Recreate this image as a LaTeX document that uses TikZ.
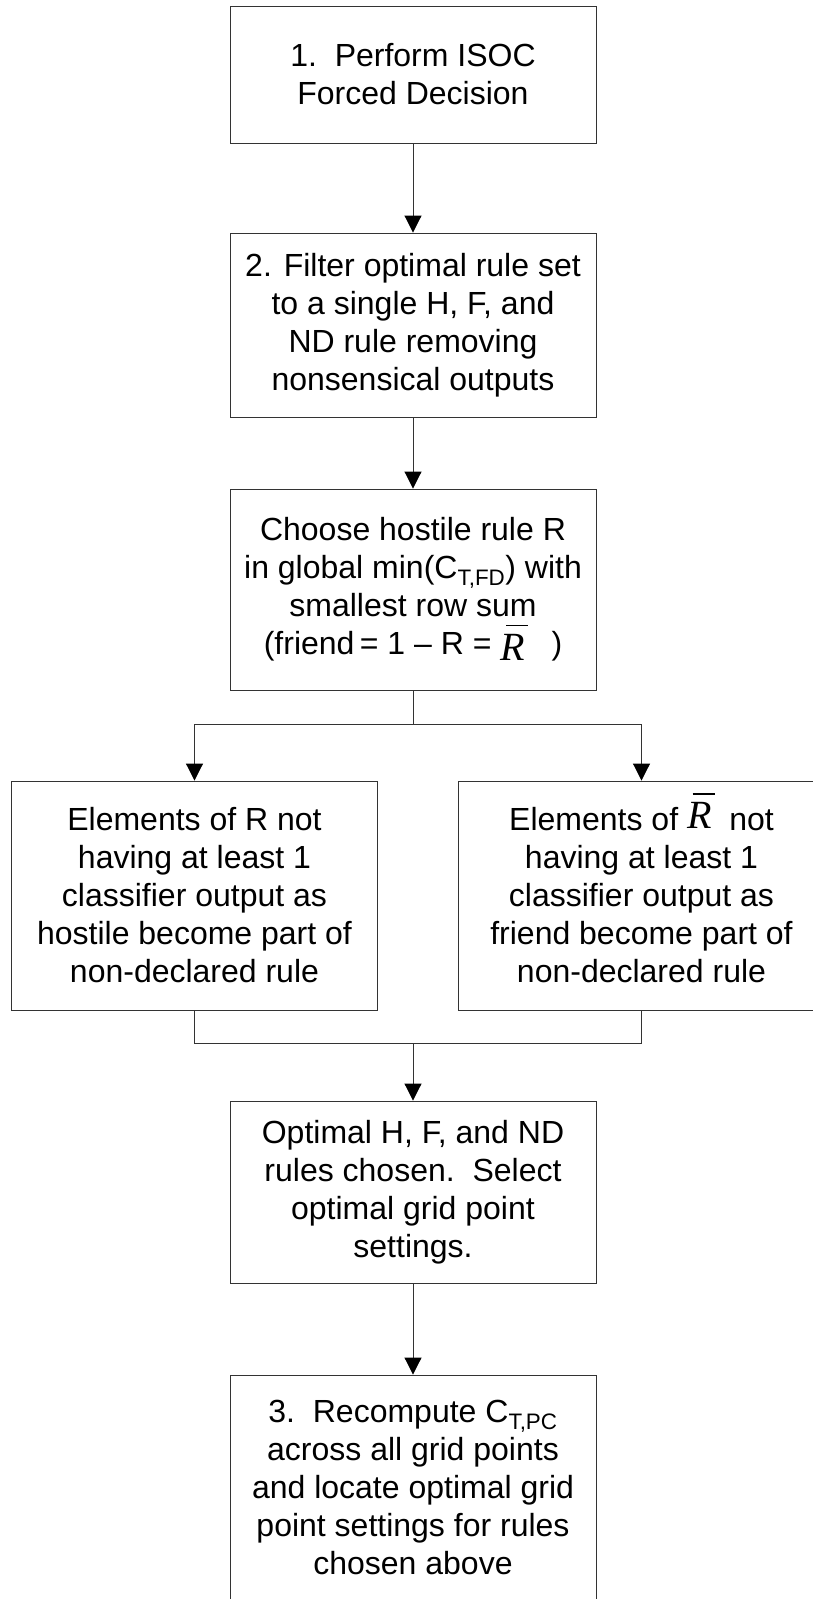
\documentclass[tikz,border=0pt]{standalone}
\usepackage{fontspec}
\setmainfont{Liberation Sans}
\newfontfamily\eqfont{Liberation Serif}
\usetikzlibrary{arrows.meta}

% italic serif R with an overbar (the complement rule), raised by #1
\newcommand{\Rbar}[1]{\smash{\raisebox{#1}{\eqfont\itshape\fontsize{40}{40}\selectfont\makebox[0pt][l]{\hspace{0.14em}\rule[0.86em]{0.55em}{1.2pt}}R}}}

\begin{document}
\begin{tikzpicture}[x=1pt,y=-1pt,
  box/.style={draw=black!80, line width=0.9pt, minimum width=366pt, inner sep=0pt,
              align=center, font=\fontsize{32}{38}\selectfont},
  flow/.style={draw=black!80, line width=0.9pt},
  arr/.style={flow, -{Triangle[length=17pt,width=17pt,color=black]}}]

\useasboundingbox (0,0) rectangle (813,1599);
\clip (0,0) rectangle (813,1599);

\node[box, minimum height=137pt] (b1) at (413,74.5)
  {1.\ \ Perform ISOC\\Forced Decision};
\node[box, minimum height=184pt] (b2) at (413,325)
  {2. Filter optimal rule set\\to a single H, F, and\\ND rule removing\\nonsensical outputs};
\node[box, minimum height=201pt] (b3) at (413,589.5)
  {Choose hostile rule R\\in global min(C\textsubscript{T,FD}) with\\smallest row sum\\(friend\,= 1 – R = \Rbar{-6pt}\ \ \ )};
\node[box, minimum height=229pt] (bl) at (194.5,895.5)
  {Elements of R not\\having at least 1\\classifier output as\\hostile become part of\\non-declared rule};
\node[box, minimum height=229pt] (br) at (641.5,895.5)
  {Elements of\ \Rbar{2pt}\ \ not\\having at least 1\\classifier output as\\friend become part of\\non-declared rule};
\node[box, minimum height=182pt] (b5) at (413,1192)
  {Optimal H, F, and ND\\rules chosen.\ \ Select\\optimal grid point\\settings.};
\node[box, minimum height=225pt] (b6) at (413,1487.5)
  {3.\ \ Recompute C\textsubscript{T,PC}\\across all grid points\\and locate optimal grid\\point settings for rules\\chosen above};

\coordinate (split) at (413,724);
\coordinate (merge) at (413,1043);

\draw[arr] (b1.south) -- (b2.north);
\draw[arr] (b2.south) -- (b3.north);
\draw[flow] (b3.south) -- (split);
\draw[arr] (split) -| (bl.north);
\draw[arr] (split) -| (br.north);
\draw[flow] (bl.south) |- (merge);
\draw[flow] (br.south) |- (merge);
\draw[arr] (merge) -- (b5.north);
\draw[arr] (b5.south) -- (b6.north);
\end{tikzpicture}
\end{document}
